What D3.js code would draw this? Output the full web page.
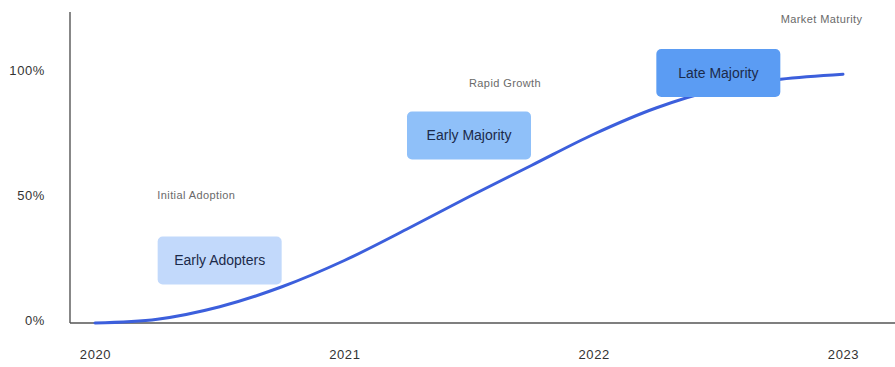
<!DOCTYPE html>
<html>
<head>
<meta charset="utf-8">
<script src="https://cdn.jsdelivr.net/npm/d3@7"></script>
<style>
  html, body { margin: 0; padding: 0; background: #fff; }
  svg { display: block; font-family: "Liberation Sans", Arial, sans-serif; }
</style>
</head>
<body>
<svg id="chart" width="895" height="367"></svg>
<script>
// Adoption curve, sampled quarterly (share of market, %)
const periods = [2020, 2020.25, 2020.5, 2020.75, 2021, 2021.25, 2021.5, 2021.75, 2022, 2022.25, 2022.5, 2022.75, 2023];
const adoption = [0, 1.5, 6.5, 14.5, 25, 37.5, 50.5, 63, 75.5, 86, 93.5, 97.5, 99.5];

const yearTicks = [2020, 2021, 2022, 2023];
const pctTicks = [0, 50, 100];

// Segment boxes placed on the curve
const segmentNames = ["Early Adopters", "Early Majority", "Late Majority"];
const segmentX = [2020.5, 2021.5, 2022.5];
const segmentY = [25, 75, 100];
const segmentFill = ["#c2d9fb", "#8fc0f9", "#5b9cf3"];

// Phase annotations
const phaseNames = ["Initial Adoption", "Rapid Growth", "Market Maturity"];
const phaseX = [2020.25, 2021.5, 2022.75];
const phaseY = [49.5, 94.5, 120];

const svg = d3.select("#chart");

const x = d3.scaleLinear().domain([2020, 2023]).range([95, 843]);
const y = d3.scaleLinear().domain([0, 100]).range([323, 73]);

const axisColor = "#555";

// Axis lines
svg.append("line")
  .attr("x1", 70).attr("x2", 70).attr("y1", 12).attr("y2", 323)
  .attr("stroke", axisColor).attr("stroke-width", 1.4);
svg.append("line")
  .attr("x1", 70).attr("x2", 895).attr("y1", 323).attr("y2", 323)
  .attr("stroke", axisColor).attr("stroke-width", 1.4);

// Tick labels via d3 axes (tick lines and domain hidden)
const yAxis = d3.axisLeft(y).tickValues(pctTicks).tickFormat(d => d + "%").tickSize(0).tickPadding(0);
const yG = svg.append("g").attr("transform", "translate(45,-3)").call(yAxis);
yG.select(".domain").remove();
yG.selectAll("text")
  .attr("font-size", 13).attr("letter-spacing", 0.6)
  .attr("fill", "#333").attr("font-family", "Liberation Sans, Arial, sans-serif");

const xAxis = d3.axisBottom(x).tickValues(yearTicks).tickFormat(d3.format("d")).tickSize(0).tickPadding(0);
const xG = svg.append("g").attr("transform", "translate(0,350)").call(xAxis);
xG.select(".domain").remove();
xG.selectAll("text")
  .attr("font-size", 13).attr("letter-spacing", 0.6)
  .attr("fill", "#333").attr("font-family", "Liberation Sans, Arial, sans-serif");

// Curve
const line = d3.line()
  .x((d, i) => x(periods[i]))
  .y(d => y(d))
  .curve(d3.curveCatmullRom.alpha(0.5));

svg.append("path")
  .datum(adoption)
  .attr("d", line)
  .attr("fill", "none")
  .attr("stroke", "#3c5fdc")
  .attr("stroke-width", 3)
  .attr("stroke-linecap", "round");

// Phase annotations
svg.selectAll("text.phase")
  .data(phaseNames)
  .join("text")
  .attr("class", "phase")
  .attr("x", (d, i) => x(phaseX[i]))
  .attr("y", (d, i) => y(phaseY[i]))
  .attr("font-size", 11)
  .attr("letter-spacing", 0.4)
  .attr("fill", "#6a6a6a")
  .text(d => d);

// Segment boxes
const boxW = 124, boxH = 48;
const seg = svg.selectAll("g.segment")
  .data(segmentNames)
  .join("g")
  .attr("class", "segment")
  .attr("transform", (d, i) => `translate(${x(segmentX[i])},${y(segmentY[i])})`);

seg.append("rect")
  .attr("x", -boxW / 2).attr("y", -boxH / 2)
  .attr("width", boxW).attr("height", boxH)
  .attr("rx", 5).attr("ry", 5)
  .attr("fill", (d, i) => segmentFill[i]);

seg.append("text")
  .attr("text-anchor", "middle")
  .attr("dy", "0.35em")
  .attr("font-size", 14)
  .attr("fill", "#1b2a4a")
  .text(d => d);
</script>
</body>
</html>
